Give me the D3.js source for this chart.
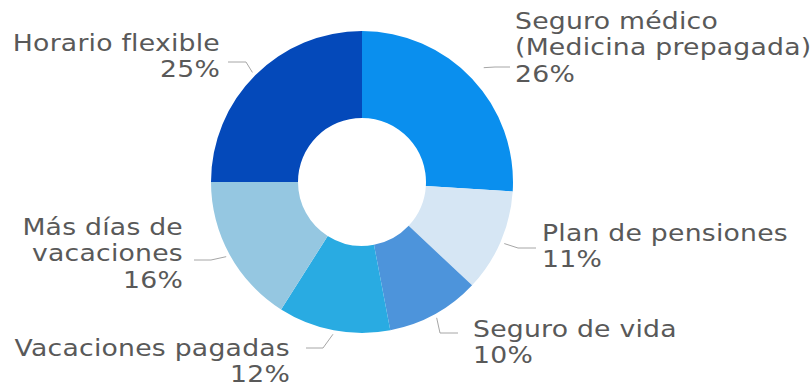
<!DOCTYPE html>
<html>
<head>
<meta charset="utf-8">
<script src="https://cdn.jsdelivr.net/npm/d3@7"></script>
<style>
  html, body { margin: 0; padding: 0; background: #ffffff; }
  svg { display: block; }
  text { font-family: "DejaVu Sans", sans-serif; fill: #595959; }
</style>
</head>
<body>
<svg id="chart" width="812" height="385"></svg>
<script>
// Benefit categories, in clockwise order from 12 o'clock
const categories = [
  "Seguro médico (Medicina prepagada)",
  "Plan de pensiones",
  "Seguro de vida",
  "Vacaciones pagadas",
  "Más días de vacaciones",
  "Horario flexible"
];
// Share of respondents (%)
const values = [26, 11, 10, 12, 16, 25];
// Label text, one entry per line
const labelLines = [
  ["Seguro médico", "(Medicina prepagada)", "26%"],
  ["Plan de pensiones", "11%"],
  ["Seguro de vida", "10%"],
  ["Vacaciones pagadas", "12%"],
  ["Más días de", "vacaciones", "16%"],
  ["Horario flexible", "25%"]
];
const colors = ["#0A8FEE", "#D6E6F4", "#4D94DB", "#29ABE2", "#95C7E1", "#0449BA"];

// Label placement: text anchor point, alignment, leader start gap, elbow and end
const labelLayout = [
  { x: 515, y: 29,  anchor: "start", gap: 16, lineY: 67,  elbowX: 495, endX: 510 },
  { x: 542, y: 241, anchor: "start", gap: 4,  lineY: 248, elbowX: 518, endX: 536 },
  { x: 473, y: 337, anchor: "start", gap: 4,  lineY: 333, elbowX: 440, endX: 458 },
  { x: 290, y: 356, anchor: "end",   gap: 4,  lineY: 348, elbowX: 323, endX: 306 },
  { x: 183, y: 235, anchor: "end",   gap: 4,  lineY: 260, elbowX: 211, endX: 194 },
  { x: 220, y: 51,  anchor: "end",   gap: 4,  lineY: 62,  elbowX: 246, endX: 228 }
];

const svg = d3.select("#chart");
const cx = 362, cy = 182;
const outerR = 151, innerR = 64;
const fontSize = 23, lineH = 26.5, stretch = 1.16;

const pie = d3.pie().sort(null).value(d => d)
  .startAngle(0).endAngle(2 * Math.PI);
const arcs = pie(values);
const arc = d3.arc().innerRadius(innerR).outerRadius(outerR);

const g = svg.append("g").attr("transform", `translate(${cx},${cy})`);

g.selectAll("path.slice")
  .data(arcs)
  .join("path")
  .attr("class", "slice")
  .attr("d", arc)
  .attr("fill", (d, i) => colors[i]);

// Leader lines: from just outside the slice at its mid-angle to the label
const leaders = svg.append("g");
arcs.forEach((d, i) => {
  const a = (d.startAngle + d.endAngle) / 2;
  const L = labelLayout[i];
  const r0 = outerR + L.gap;
  const sx = cx + r0 * Math.sin(a);
  const sy = cy - r0 * Math.cos(a);
  leaders.append("polyline")
    .attr("points", `${sx},${sy} ${L.elbowX},${L.lineY} ${L.endX},${L.lineY}`)
    .attr("fill", "none")
    .attr("stroke", "#A6A6A6")
    .attr("stroke-width", 1);
});

// Labels (wide letterforms: slightly stretched horizontally)
const labels = svg.append("g");
labelLines.forEach((lines, i) => {
  const L = labelLayout[i];
  const t = labels.append("text")
    .attr("transform", `translate(${L.x},${L.y}) scale(${stretch},1)`)
    .attr("text-anchor", L.anchor)
    .attr("font-size", fontSize)
    .attr("letter-spacing", 0.2);
  lines.forEach((s, k) => {
    t.append("tspan")
      .attr("x", 0)
      .attr("y", k * lineH)
      .text(s);
  });
});
</script>
</body>
</html>
